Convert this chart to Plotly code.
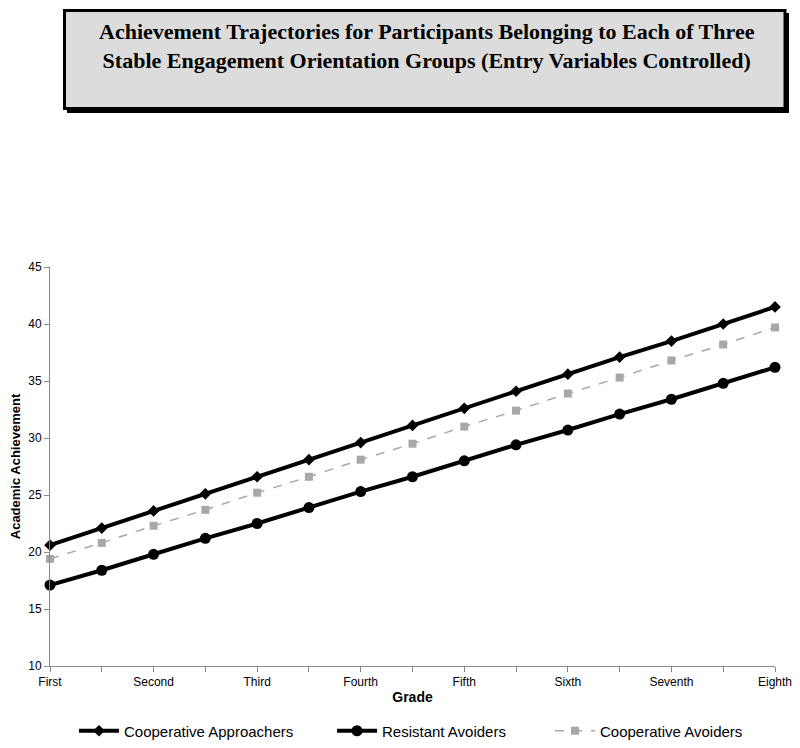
import plotly.graph_objects as go

grades = ["First", "", "Second", "", "Third", "", "Fourth", "", "Fifth", "", "Sixth", "", "Seventh", "", "Eighth"]
x_pos = list(range(len(grades)))

coop_approachers = [20.6, 22.1, 23.6, 25.1, 26.6, 28.1, 29.6, 31.1, 32.6, 34.1, 35.6, 37.1, 38.5, 40.0, 41.5]
resistant_avoiders = [17.1, 18.4, 19.8, 21.2, 22.5, 23.9, 25.3, 26.6, 28.0, 29.4, 30.7, 32.1, 33.4, 34.8, 36.2]
coop_avoiders = [19.4, 20.8, 22.3, 23.7, 25.2, 26.6, 28.1, 29.5, 31.0, 32.4, 33.9, 35.3, 36.8, 38.2, 39.7]

y_ticks = [10, 15, 20, 25, 30, 35, 40, 45]

title_lines = ["Achievement Trajectories for Participants Belonging to Each of Three",
               "Stable Engagement Orientation Groups (Entry Variables Controlled)"]

# page has an 8px body margin; the figure is sized to fill the rest of the window
OFF = 8
W, H = 800 - OFF, 748 - OFF
L, R, T, B = 50 - OFF, 25, 267 - OFF, 82
pw, ph = W - L - R, H - T - B

def px(xp):
    return (xp - OFF - L) / pw

def py(yp):
    return (H - B - (yp - OFF)) / ph

fig = go.Figure()
fig.add_trace(go.Scatter(
    x=x_pos, y=coop_approachers, name="Cooperative Approachers", mode="lines+markers",
    line=dict(color="black", width=4), marker=dict(symbol="diamond", size=9, color="black"),
    cliponaxis=False, legend="legend"))
fig.add_trace(go.Scatter(
    x=x_pos, y=resistant_avoiders, name="Resistant Avoiders", mode="lines+markers",
    line=dict(color="black", width=4), marker=dict(symbol="circle", size=11, color="black"),
    cliponaxis=False, legend="legend2"))
fig.add_trace(go.Scatter(
    x=x_pos, y=coop_avoiders, name="Cooperative Avoiders", mode="lines+markers",
    line=dict(color="#a8a8a8", width=1.5, dash="dash"),
    marker=dict(symbol="square", size=8, color="#a8a8a8"),
    cliponaxis=False, legend="legend3"))

# Title box with shadow
fig.add_shape(type="rect", xref="paper", yref="paper",
              x0=px(67), x1=px(789), y0=py(113), y1=py(13),
              fillcolor="black", line=dict(width=0), layer="above")
fig.add_shape(type="rect", xref="paper", yref="paper",
              x0=px(64.5), x1=px(785), y0=py(108.5), y1=py(10.5),
              fillcolor="#dcdcdc", line=dict(color="black", width=3), layer="above")
fig.add_annotation(xref="paper", yref="paper", x=px(427), y=py(46), xanchor="center", yanchor="middle",
                   text="<br>".join("<b>" + t + "</b>" for t in title_lines), showarrow=False,
                   font=dict(family="Liberation Serif, Times New Roman, serif", size=22, color="black"),
                   align="center")

leg_common = dict(orientation="h", xanchor="left", yanchor="middle", y=py(731),
                  font=dict(size=15, family="Arial, Liberation Sans, sans-serif", color="black"),
                  bgcolor="rgba(0,0,0,0)", itemwidth=40)

fig.update_layout(
    width=W, height=H,
    margin=dict(l=L, r=R, t=T, b=B, autoexpand=False),
    paper_bgcolor="white", plot_bgcolor="white",
    font=dict(family="Arial, Liberation Sans, sans-serif", size=12, color="black"),
    showlegend=True,
    legend=dict(x=px(74), **leg_common),
    legend2=dict(x=px(332), **leg_common),
    legend3=dict(x=px(550), **leg_common),
    xaxis=dict(range=[0, 14], tickmode="array", tickvals=x_pos, ticktext=grades, automargin=False,
               showgrid=False, zeroline=False, showline=True, linecolor="#888888", linewidth=1,
               ticks="outside", ticklen=5, tickcolor="#888888",
               title=dict(text="<b>Grade</b>", font=dict(size=14), standoff=3)),
    yaxis=dict(range=[10, 45], tickmode="array", tickvals=y_ticks, automargin=False,
               showgrid=False, zeroline=False, showline=True, linecolor="#888888", linewidth=1,
               ticks="outside", ticklen=5, tickcolor="#888888",
               title=dict(text="<b>Academic Achievement</b>", font=dict(size=13), standoff=6)),
)

fig.write_html("out.html")
